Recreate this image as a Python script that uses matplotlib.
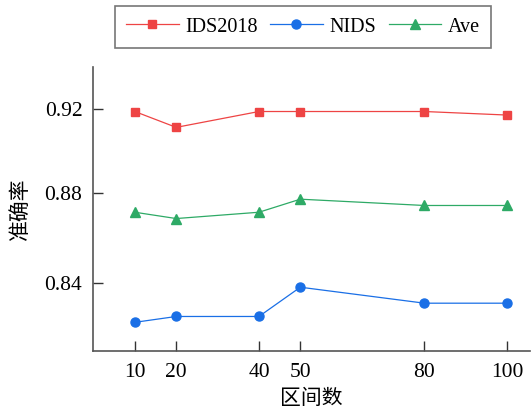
import numpy as np
import matplotlib
matplotlib.use("Agg")
import matplotlib.pyplot as plt

plt.rcParams['font.family'] = ['Liberation Serif', 'Noto Sans CJK SC']

# data
intervals = [10, 20, 40, 50, 80, 100]
ids2018 = [0.919, 0.9114, 0.919, 0.919, 0.919, 0.9173]
nids = [0.8225, 0.8251, 0.8251, 0.8381, 0.8310, 0.8310]
ave = [0.8714, 0.8686, 0.8714, 0.8772, 0.8744, 0.8744]
y_ticks = [0.84, 0.88, 0.92]
x_label = "区间数"
y_label = "准确率"

# the reference y axis is not evenly spaced between its ticks
knot_vals = np.array([0.0, 0.84, 0.88, 0.92, 1.0])
knot_pos = np.array([-1890.0, 0.0, 90.0, 173.4, 340.2])


def forward(v):
    return np.interp(v, knot_vals, knot_pos)


def inverse(p):
    return np.interp(p, knot_pos, knot_vals)


fig = plt.figure(figsize=(5.31, 4.09), dpi=100)
ax = fig.add_axes([0.176, 0.142, 0.822, 0.694])

ax.plot(intervals, ids2018, color='#EE4444', marker='s', markersize=6, lw=0.9, label='IDS2018')
ax.plot(intervals, nids, color='#1A6FE6', marker='o', markersize=6.5, lw=0.9, label='NIDS')
ax.plot(intervals, ave, color='#2EAA66', marker='^', markersize=7, lw=0.9, label='Ave')

ax.set_yscale('function', functions=(forward, inverse))
ax.set_ylim(0.8098, 0.9403)
ax.set_xlim(0, 105.5)
ax.set_xticks(intervals)
ax.set_yticks(y_ticks)
ax.set_yticklabels(['%.2f' % t for t in y_ticks])
ax.minorticks_off()

for side in ['top', 'right']:
    ax.spines[side].set_visible(False)
for side in ['left', 'bottom']:
    ax.spines[side].set_color('#555555')
    ax.spines[side].set_linewidth(1.2)

ax.tick_params(direction='in', length=7, width=1, color='#333333', labelsize=15.5, pad=8)
ax.tick_params(axis='x', pad=9)

ax.set_xlabel(x_label, fontsize=15, family=['Noto Sans CJK SC'], labelpad=3)
ax.set_ylabel(y_label, fontsize=15, family=['Noto Sans CJK SC'], labelpad=10)

leg = fig.legend(loc='center', bbox_to_anchor=(0.571, 0.934), ncol=3, fontsize=14.5,
                 frameon=True, fancybox=False, edgecolor='#555555',
                 handlelength=2.6, handletextpad=0.35, columnspacing=0.6,
                 borderpad=0.55)
leg.get_frame().set_linewidth(1.2)

fig.savefig('out.png', dpi=100)
